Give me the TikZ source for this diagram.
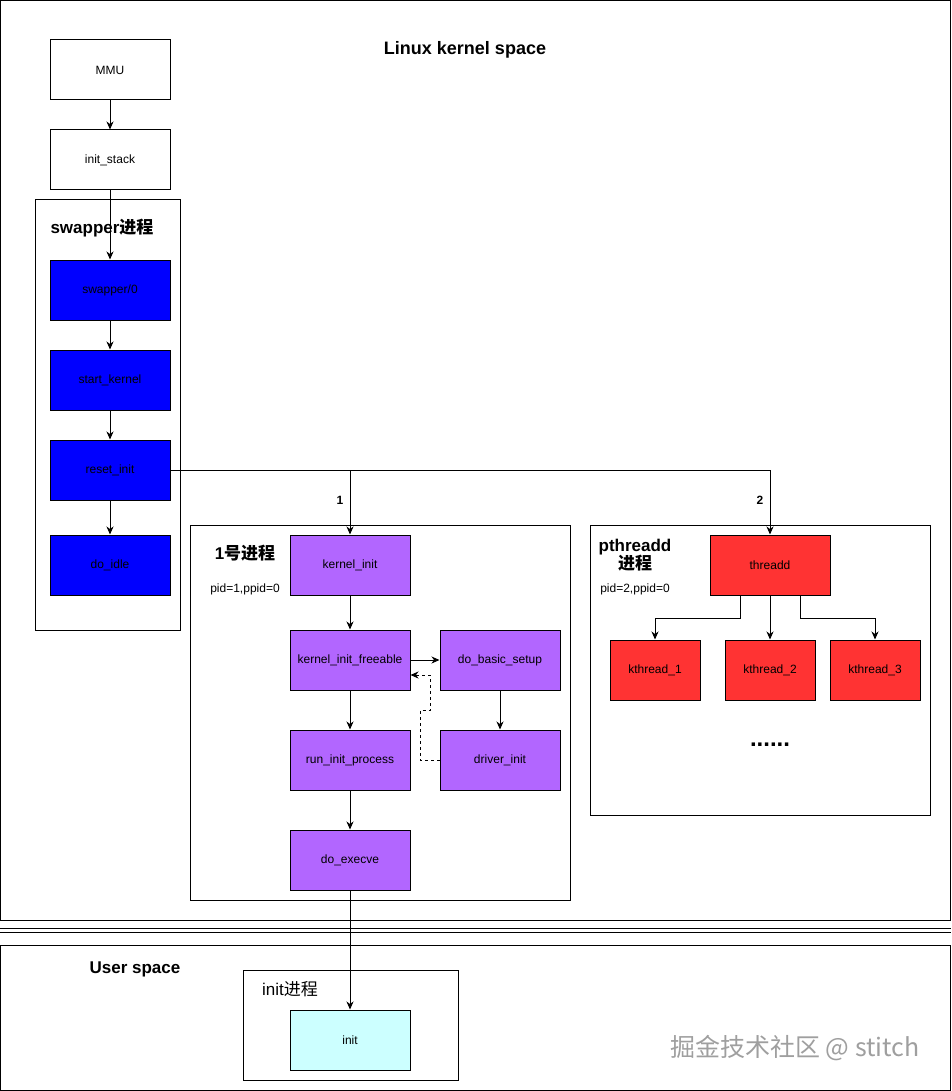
\documentclass[tikz,border=0pt]{standalone}
\usepackage{fontspec}
\setmainfont{Liberation Sans}
\newfontfamily\cjk{Noto Sans CJK SC}
\usetikzlibrary{arrows.meta,calc}
\definecolor{pblue}{HTML}{0000FF}
\definecolor{ppurple}{HTML}{B266FF}
\definecolor{pred}{HTML}{FF3333}
\definecolor{pcyan}{HTML}{CCFFFF}
\begin{document}
\begin{tikzpicture}[x=1pt,y=-1pt,
  frame/.style={draw, line width=1pt},
  box/.style={draw, line width=1pt, minimum width=120pt, minimum height=60pt, inner sep=0pt, font=\fontsize{12}{14}\selectfont},
  sbox/.style={box, minimum width=90pt},
  arr/.style={line width=1pt, -{Stealth[length=8pt,width=7pt,inset=2.5pt]}},
  ln/.style={line width=1pt},
  ttl/.style={font=\bfseries\fontsize{17}{20}\selectfont, inner sep=0pt},
  sml/.style={font=\fontsize{12}{14}\selectfont, inner sep=0pt}
]
\useasboundingbox (0,0) rectangle (951,1091);
\fill[white] (0,0) rectangle (951,1091);

% frames
\draw[frame] (0.5,0.5) rectangle (950,920);
\draw[ln] (0,928) -- (951,928);
\draw[ln] (0,932) -- (951,932);
\draw[frame] (0.5,945) rectangle (950,1090);
\draw[frame] (35,200) rectangle (180,630);
\draw[frame] (190,525) rectangle (570,900);
\draw[frame] (590,525) rectangle (930,815);
\draw[frame] (243,970) rectangle (458,1080);

% titles
\node[font=\bfseries\fontsize{18}{21}\selectfont, inner sep=0pt] (tk) at (465,50) {Linux kernel space};
\node[ttl] (tsw) at (102,228) {swapper{\cjk 进程}};
\node[ttl] (t1) at (245,553) {1{\cjk 号进程}};
\node[sml] (p1) at (245,589) {pid=1,ppid=0};
\node[ttl, align=center] (t2) at (635,555) {pthreadd\\[-2pt]{\cjk 进程}};
\node[sml] (p2) at (635,589) {pid=2,ppid=0};
\node[ttl] (tu) at (135,969) {User space};
\node[font=\fontsize{17}{20}\selectfont, inner sep=0pt] (tinit) at (290,989) {init{\cjk 进程}};
\node[font=\bfseries\fontsize{24}{26}\selectfont, inner sep=0pt] (dots) at (770,745) {......};

% boxes
\node[box] (mmu) at (110,70) {MMU};
\node[box] (ist) at (110,160) {init\_stack};
\node[box, fill=pblue] (sw) at (110,290) {swapper/0};
\node[box, fill=pblue] (sk) at (110,380) {start\_kernel};
\node[box, fill=pblue] (ri) at (110,470) {reset\_init};
\node[box, fill=pblue] (di) at (110,565) {do\_idle};

\node[box, fill=ppurple] (ki) at (350,565) {kernel\_init};
\node[box, fill=ppurple] (kif) at (350,660) {kernel\_init\_freeable};
\node[box, fill=ppurple] (dbs) at (500,660) {do\_basic\_setup};
\node[box, fill=ppurple] (rip) at (350,760) {run\_init\_process};
\node[box, fill=ppurple] (drv) at (500,760) {driver\_init};
\node[box, fill=ppurple] (dex) at (350,860) {do\_execve};

\node[box, fill=pred] (th) at (770,565) {threadd};
\node[sbox, fill=pred] (k1) at (655,670) {kthread\_1};
\node[sbox, fill=pred] (k2) at (770,670) {kthread\_2};
\node[sbox, fill=pred] (k3) at (875,670) {kthread\_3};

\node[box, fill=pcyan] (init) at (350,1040) {init};

% connectors
\draw[arr] (mmu) -- (ist);
\draw[arr] (ist) -- (sw);
\draw[arr] (sw) -- (sk);
\draw[arr] (sk) -- (ri);
\draw[arr] (ri) -- (di);

\coordinate (j1) at (350,470);
\coordinate (j2) at (770,470);
\draw[ln] (ri.east) -- (j2);
\draw[arr] (j2) -- (th.north);
\draw[arr] (j1) -- (ki.north);
\node[font=\bfseries\fontsize{12}{14}\selectfont, inner sep=0pt] (l1) at (340,500) {1};
\node[font=\bfseries\fontsize{12}{14}\selectfont, inner sep=0pt] (l2) at (760,500) {2};

\draw[arr] (ki) -- (kif);
\draw[arr] (kif) -- (dbs);
\draw[arr] (dbs) -- (drv);
\draw[arr] (kif) -- (rip);
\draw[arr] (rip) -- (dex);
\draw[line width=1pt, dash pattern=on 3pt off 3pt, -{Stealth[length=8pt,width=7pt,inset=2.5pt]}]
  (drv.west) -- (420,760) -- (420,710) -- (430,710) -- (430,675) -- (kif.east |- 0,675);
\draw[arr] (dex.south) -- (init.north);

\draw[arr] ($(th.south)+(-30,0)$) -- ++(0,23) -| (k1.north);
\draw[arr] (th.south) -- (k2.north);
\draw[arr] ($(th.south)+(30,0)$) -- ++(0,23) -| (k3.north);

% watermark
\node[text=gray!75, font=\cjk\fontsize{25}{28}\selectfont, inner sep=0pt] (wm) at (795,1048) {掘金技术社区 @ stitch};
\end{tikzpicture}
\end{document}
